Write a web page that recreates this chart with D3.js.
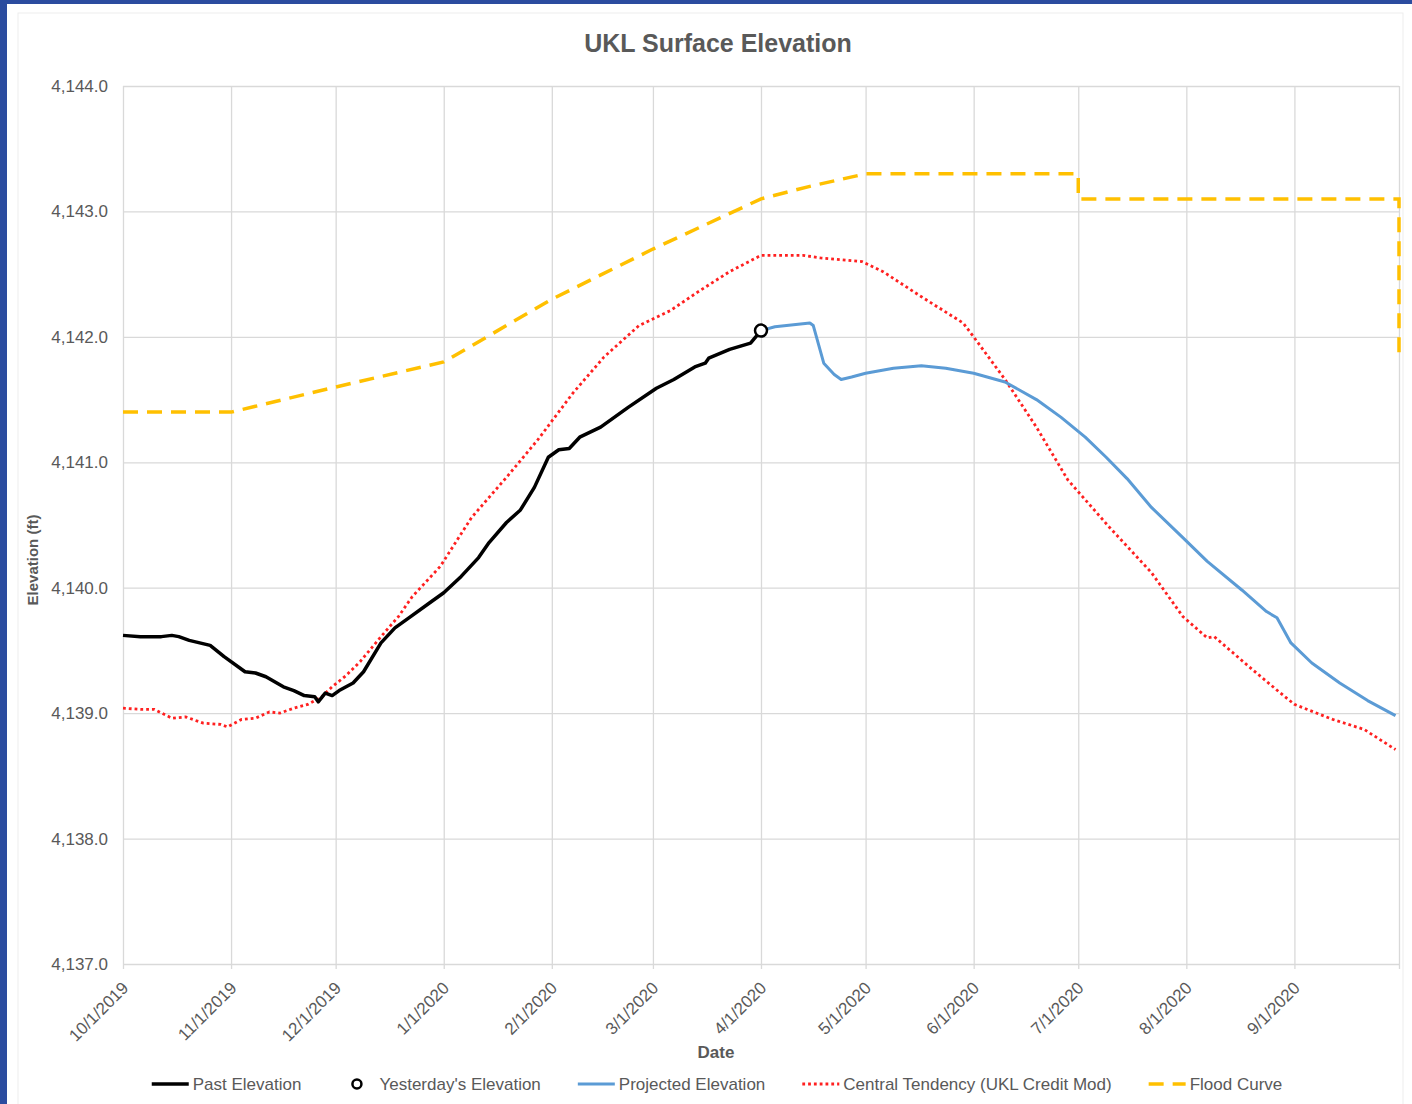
<!DOCTYPE html>
<html lang="en">
<head>
<meta charset="UTF-8">
<title>UKL Surface Elevation</title>
<script src="https://d3js.org/d3.v7.min.js"></script>
<style>
    body {
        margin: 0;
        background: #2b4c9f;
    }
    svg text {
        font-family: "Liberation Sans", Arial, sans-serif;
        fill: #595959;
    }
    .grid line {
        stroke: #d9d9d9;
        stroke-width: 1.3;
    }
    .grid path {
        display: none;
    }
</style>
</head>
<body>
<script>
// chart values
var xTickLabels = ["10/1/2019", "11/1/2019", "12/1/2019", "1/1/2020", "2/1/2020", "3/1/2020",
    "4/1/2020", "5/1/2020", "6/1/2020", "7/1/2020", "8/1/2020", "9/1/2020"];
var yTicks = [4137, 4138, 4139, 4140, 4141, 4142, 4143, 4144];

var pastDates = ["10/1/2019", "10/6/2019", "10/12/2019", "10/15/2019", "10/17/2019", "10/20/2019",
    "10/26/2019", "10/30/2019", "11/5/2019", "11/8/2019", "11/11/2019", "11/16/2019", "11/19/2019",
    "11/22/2019", "11/25/2019", "11/26/2019", "11/28/2019", "11/30/2019", "12/2/2019", "12/6/2019",
    "12/9/2019", "12/14/2019", "12/18/2019", "12/22/2019", "12/28/2019", "1/1/2020", "1/6/2020",
    "1/11/2020", "1/14/2020", "1/19/2020", "1/23/2020", "1/27/2020", "1/31/2020", "2/3/2020",
    "2/6/2020", "2/9/2020", "2/15/2020", "2/21/2020", "2/23/2020", "3/2/2020", "3/7/2020",
    "3/13/2020", "3/16/2020", "3/17/2020", "3/23/2020", "3/29/2020", "4/1/2020"];
var pastValues = [4139.62, 4139.61, 4139.61, 4139.62, 4139.61, 4139.58, 4139.54, 4139.45, 4139.33,
    4139.32, 4139.29, 4139.21, 4139.18, 4139.14, 4139.13, 4139.09, 4139.16, 4139.14, 4139.18,
    4139.24, 4139.33, 4139.56, 4139.68, 4139.76, 4139.88, 4139.96, 4140.09, 4140.24, 4140.36,
    4140.52, 4140.62, 4140.80, 4141.04, 4141.10, 4141.11, 4141.20, 4141.28, 4141.40, 4141.44,
    4141.59, 4141.66, 4141.76, 4141.79, 4141.83, 4141.90, 4141.95, 4142.05];

var yesterdayDate = "4/1/2020";
var yesterdayValue = 4142.05;

var projDates = ["4/1/2020", "4/5/2020", "4/15/2020", "4/16/2020", "4/19/2020", "4/22/2020",
    "4/24/2020", "4/27/2020", "5/1/2020", "5/9/2020", "5/17/2020", "5/24/2020", "6/1/2020",
    "6/10/2020", "6/19/2020", "6/26/2020", "7/3/2020", "7/9/2020", "7/15/2020", "7/22/2020",
    "7/31/2020", "8/7/2020", "8/17/2020", "8/24/2020", "8/27/2020", "8/31/2020", "9/6/2020",
    "9/14/2020", "9/22/2020", "9/30/2020"];
var projValues = [4142.05, 4142.08, 4142.11, 4142.09, 4141.79, 4141.70, 4141.66, 4141.68, 4141.71,
    4141.75, 4141.77, 4141.75, 4141.71, 4141.64, 4141.50, 4141.36, 4141.20, 4141.04, 4140.87,
    4140.64, 4140.40, 4140.21, 4139.98, 4139.81, 4139.76, 4139.56, 4139.40, 4139.24, 4139.10,
    4138.98];

var centralDates = ["10/1/2019", "10/6/2019", "10/10/2019", "10/15/2019", "10/19/2019", "10/24/2019",
    "10/29/2019", "10/31/2019", "11/4/2019", "11/8/2019", "11/12/2019", "11/15/2019", "11/19/2019",
    "11/23/2019", "11/27/2019", "11/30/2019", "12/4/2019", "12/8/2019", "12/14/2019", "12/19/2019",
    "12/23/2019", "12/31/2019", "1/9/2020", "1/19/2020", "1/28/2020", "2/7/2020", "2/16/2020",
    "2/26/2020", "3/6/2020", "3/14/2020", "3/23/2020", "4/1/2020", "4/13/2020", "4/18/2020",
    "4/30/2020", "5/6/2020", "5/17/2020", "5/29/2020", "6/1/2020", "6/10/2020", "6/19/2020",
    "6/28/2020", "7/10/2020", "7/22/2020", "7/31/2020", "8/7/2020", "8/9/2020", "8/19/2020",
    "8/28/2020", "9/1/2020", "9/12/2020", "9/21/2020", "9/30/2020"];
var centralValues = [4139.04, 4139.03, 4139.03, 4138.96, 4138.97, 4138.92, 4138.91, 4138.89,
    4138.95, 4138.96, 4139.01, 4139.00, 4139.04, 4139.07, 4139.13, 4139.21, 4139.30, 4139.41,
    4139.61, 4139.77, 4139.93, 4140.17, 4140.56, 4140.88, 4141.18, 4141.55, 4141.84, 4142.09,
    4142.21, 4142.36, 4142.52, 4142.65, 4142.65, 4142.63, 4142.60, 4142.52, 4142.32, 4142.11,
    4142.00, 4141.66, 4141.28, 4140.86, 4140.48, 4140.12, 4139.77, 4139.60, 4139.61, 4139.37,
    4139.16, 4139.07, 4138.95, 4138.87, 4138.71];

var floodDates = ["10/1/2019", "11/1/2019", "12/1/2019", "1/1/2020", "2/1/2020", "3/1/2020",
    "4/1/2020", "4/15/2020", "5/1/2020", "7/1/2020", "7/1/2020", "10/1/2020", "10/1/2020"];
var floodValues = [4141.40, 4141.40, 4141.60, 4141.80, 4142.30, 4142.70, 4143.10, 4143.20,
    4143.30, 4143.30, 4143.10, 4143.10, 4141.82];

// layout
var width = 1412, height = 1104;
var plot = {left: 123, right: 1399, top: 86, bottom: 964};

var parse = d3.timeParse("%m/%d/%Y");

function zipSeries(dates, values) {
    return dates.map(function (d, i) {
        return {date: parse(d), value: values[i]};
    });
}

var svg = d3.select("body").append("svg")
    .attr("width", width)
    .attr("height", height);

// white chart panel inside the blue frame
svg.append("rect")
    .attr("x", 7).attr("y", 4)
    .attr("width", width - 7).attr("height", height - 4)
    .attr("fill", "#ffffff");
svg.append("rect")
    .attr("x", 18).attr("y", 13)
    .attr("width", 1385).attr("height", height)
    .attr("fill", "none")
    .attr("stroke", "#ededed");

var x = d3.scaleTime()
    .domain([parse("10/1/2019"), parse("10/1/2020")])
    .range([plot.left, plot.right]);

var y = d3.scaleLinear()
    .domain([4137, 4144])
    .range([plot.bottom, plot.top]);

// horizontal grid + y labels
var yAxis = d3.axisLeft(y)
    .tickValues(yTicks)
    .tickSize(-(plot.right - plot.left))
    .tickPadding(15)
    .tickFormat(d3.format(",.1f"));

svg.append("g")
    .attr("class", "grid")
    .attr("transform", "translate(" + plot.left + ",0)")
    .call(yAxis)
    .selectAll("text")
    .style("font-size", "17px");

// vertical grid + rotated date labels
var xTickDates = xTickLabels.map(parse).concat([parse("10/1/2020")]);
var fmt = d3.timeFormat("%-m/%-d/%Y");

var xAxis = d3.axisBottom(x)
    .tickValues(xTickDates)
    .tickSize(-(plot.bottom - plot.top + 5))
    .tickFormat(function (d, i) {
        return i < xTickLabels.length ? fmt(d) : "";
    });

svg.append("g")
    .attr("class", "grid")
    .attr("transform", "translate(0," + (plot.bottom + 5) + ")")
    .call(xAxis)
    .selectAll("text")
    .attr("x", 0).attr("y", 0).attr("dy", 0)
    .attr("text-anchor", "end")
    .attr("transform", "translate(6,20) rotate(-45)")
    .style("font-size", "17px");

var line = d3.line()
    .x(function (d) { return x(d.date); })
    .y(function (d) { return y(d.value); });

var g = svg.append("g");

// flood curve
g.append("path")
    .datum(zipSeries(floodDates, floodValues))
    .attr("d", line)
    .attr("fill", "none")
    .attr("stroke", "#ffc000")
    .attr("stroke-width", 3.5)
    .attr("stroke-dasharray", "15,9");

// central tendency
g.append("path")
    .datum(zipSeries(centralDates, centralValues))
    .attr("d", line)
    .attr("fill", "none")
    .attr("stroke", "#ff2020")
    .attr("stroke-width", 2.8)
    .attr("stroke-dasharray", "2.8,3");

// projected
g.append("path")
    .datum(zipSeries(projDates, projValues))
    .attr("d", line)
    .attr("fill", "none")
    .attr("stroke", "#5b9bd5")
    .attr("stroke-width", 3)
    .attr("stroke-linejoin", "round");

// past
g.append("path")
    .datum(zipSeries(pastDates, pastValues))
    .attr("d", line)
    .attr("fill", "none")
    .attr("stroke", "#000000")
    .attr("stroke-width", 3.5)
    .attr("stroke-linejoin", "round");

// yesterday marker
g.append("circle")
    .attr("cx", x(parse(yesterdayDate)))
    .attr("cy", y(yesterdayValue))
    .attr("r", 6)
    .attr("fill", "#ffffff")
    .attr("stroke", "#000000")
    .attr("stroke-width", 2.5);

// titles
svg.append("text")
    .attr("x", 718).attr("y", 52)
    .attr("text-anchor", "middle")
    .style("font-size", "25px")
    .style("font-weight", "bold")
    .text("UKL Surface Elevation");

svg.append("text")
    .attr("transform", "translate(38,560) rotate(-90)")
    .attr("text-anchor", "middle")
    .style("font-size", "15px")
    .style("font-weight", "bold")
    .text("Elevation (ft)");

svg.append("text")
    .attr("x", 716).attr("y", 1058)
    .attr("text-anchor", "middle")
    .style("font-size", "17px")
    .style("font-weight", "bold")
    .text("Date");

// legend
var legendItems = [
    {name: "Past Elevation", type: "line", color: "#000000", w: 3.5, dash: null},
    {name: "Yesterday's Elevation", type: "marker"},
    {name: "Projected Elevation", type: "line", color: "#5b9bd5", w: 3, dash: null},
    {name: "Central Tendency (UKL Credit Mod)", type: "line", color: "#ff2020", w: 2.8, dash: "2.8,3"},
    {name: "Flood Curve", type: "line", color: "#ffc000", w: 3.5, dash: "15,9"}
];

var legend = svg.append("g");
var cursor = 0, ly = 1084;
legendItems.forEach(function (item) {
    var it = legend.append("g");
    if (item.type === "line") {
        it.append("line")
            .attr("x1", cursor).attr("x2", cursor + 37)
            .attr("y1", ly).attr("y2", ly)
            .attr("stroke", item.color)
            .attr("stroke-width", item.w)
            .attr("stroke-dasharray", item.dash);
    } else {
        it.append("circle")
            .attr("cx", cursor + 18.5).attr("cy", ly)
            .attr("r", 4.5)
            .attr("fill", "#ffffff")
            .attr("stroke", "#000000")
            .attr("stroke-width", 2.5);
    }
    var t = it.append("text")
        .attr("x", cursor + 41).attr("y", ly + 6)
        .style("font-size", "17px")
        .text(item.name);
    cursor += 41 + t.node().getComputedTextLength() + 37;
});
var legendWidth = cursor - 37;
legend.attr("transform", "translate(" + (717 - legendWidth / 2) + ",0)");
</script>
</body>
</html>
